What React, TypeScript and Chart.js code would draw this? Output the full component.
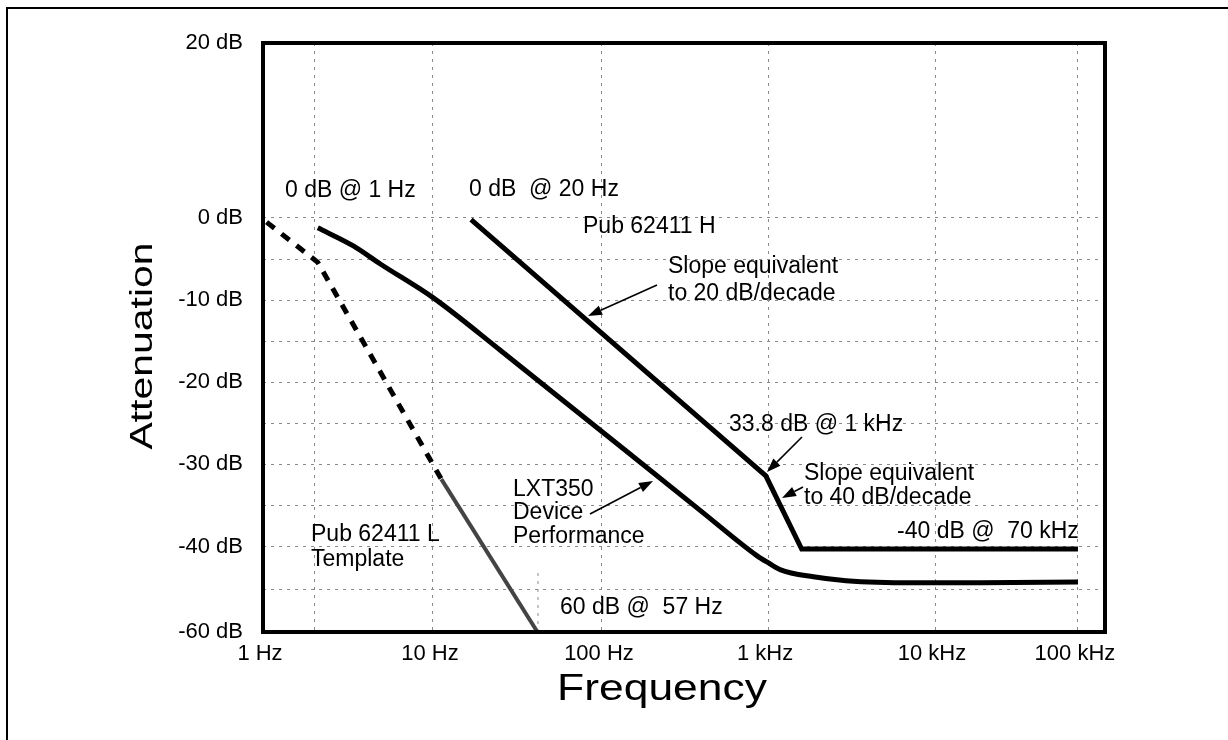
import React, { useEffect, useRef } from 'react';
import { Chart, LinearScale, registerables } from 'chart.js';

Chart.register(...registerables);

// ---------- data ----------
const X_TICKS = [1, 2, 10, 100, 1000, 10000, 100000];
const X_TICK_LABELS = ['1 Hz', '', '10 Hz', '100 Hz', '1 kHz', '10 kHz', '100 kHz'];
const Y_TICKS = [-60, -50, -40, -35, -30, -25, -20, -15, -10, -5, 0, 20];
const Y_TICK_LABELS = ['-60 dB', '', '-40 dB', '', '-30 dB', '', '-20 dB', '', '-10 dB', '', '0 dB', '20 dB'];

const LXT_FREQ = [2.1, 3.4, 4.9, 10, 25, 390, 860, 1000, 1180, 1870, 2930, 7400, 20600, 100000];
const LXT_DB = [-1.2, -3.4, -5.6, -9.7, -16.1, -35.6, -42.2, -43.8, -45.4, -47.1, -48.0, -48.5, -48.5, -48.3];

const H_FREQ = [16.8, 970, 1590, 100000];
const H_DB = [-0.2, -31.4, -40.6, -40.6];

const L_DASH_FREQ = [1.05, 2.1, 11.2];
const L_DASH_DB = [-0.5, -5.4, -31.8];

const L_SOLID_FREQ = [11.2, 41.5];
const L_SOLID_DB = [-31.8, -60];

const MARK_FREQ = [41.8, 41.8];
const MARK_DB = [-46.2, -60];

// ---------- axis geometry (drawing's own non-uniform axes) ----------
const X_AXIS_LOG = [0, 1, 2, 3, 4, 5];
const X_AXIS_FRAC = [0, 0.2019, 0.4026, 0.5998, 0.7981, 0.9679];
const Y_AXIS_DB = [-60, -40, 0, 20];
const Y_AXIS_FRAC = [0, 0.1452, 0.7029, 1];

// ---------- annotations ----------
const FONT = '"Liberation Sans", Arial, Helvetica, sans-serif';
const NOTES = [
  { text: '0 dB @ 1 Hz', x: 285, y: 197 },
  { text: '0 dB  @ 20 Hz', x: 469, y: 196 },
  { text: 'Pub 62411 H', x: 583, y: 233 },
  { text: 'Slope equivalent', x: 668, y: 273 },
  { text: 'to 20 dB/decade', x: 668, y: 300 },
  { text: '33.8 dB @ 1 kHz', x: 729, y: 431 },
  { text: 'Slope equivalent', x: 804, y: 480 },
  { text: 'to 40 dB/decade', x: 804, y: 504 },
  { text: '-40 dB @  70 kHz', x: 897, y: 538 },
  { text: 'LXT350', x: 513, y: 496 },
  { text: 'Device', x: 513, y: 519 },
  { text: 'Performance', x: 513, y: 543 },
  { text: 'Pub 62411 L', x: 311, y: 541 },
  { text: 'Template', x: 311, y: 566 },
  { text: '60 dB @  57 Hz', x: 560, y: 614 },
];
const ARROWS = [
  { x1: 657, y1: 285, x2: 588, y2: 316 },
  { x1: 802, y1: 437, x2: 767, y2: 472 },
  { x1: 803, y1: 487, x2: 782, y2: 498 },
  { x1: 590, y1: 514, x2: 653, y2: 481 },
];

function interp(v: number, vs: number[], fs: number[]) {
  let i = 0;
  while (i < vs.length - 2 && v > vs[i + 1]) i++;
  const t = (v - vs[i]) / (vs[i + 1] - vs[i]);
  return fs[i] + t * (fs[i + 1] - fs[i]);
}

function makeScale(id: string, vs: number[], fs: number[], log: boolean, tickVals: number[]) {
  return class extends LinearScale {
    static id = id;
    static defaults = {};
    buildTicks() {
      (this as any).start = this.min;
      (this as any).end = this.max;
      return tickVals.map((v) => ({ value: v }));
    }
    getPixelForValue(value: number) {
      if (value === null || value === undefined) return NaN;
      const v = log ? Math.log10(value) : value;
      return this.getPixelForDecimal(interp(v, vs, fs));
    }
    getValueForPixel(pixel: number) {
      const d = this.getDecimalForPixel(pixel);
      const v = interp(d, fs, vs);
      return log ? Math.pow(10, v) : v;
    }
  };
}

const FreqScale = makeScale('freqpiece', X_AXIS_LOG, X_AXIS_FRAC, true, X_TICKS);
const DbScale = makeScale('dbpiece', Y_AXIS_DB, Y_AXIS_FRAC, false, Y_TICKS);
Chart.register(FreqScale as any, DbScale as any);

function pts(xs: number[], ys: number[]) {
  return xs.map((x, i) => ({ x, y: ys[i] }));
}

function drawArrow(ctx: CanvasRenderingContext2D, x1: number, y1: number, x2: number, y2: number) {
  const ang = Math.atan2(y2 - y1, x2 - x1);
  const len = 14;
  const hw = 5;
  const bx = x2 - len * Math.cos(ang);
  const by = y2 - len * Math.sin(ang);
  ctx.beginPath();
  ctx.lineWidth = 1.6;
  ctx.moveTo(x1, y1);
  ctx.lineTo(bx, by);
  ctx.stroke();
  ctx.beginPath();
  ctx.moveTo(x2, y2);
  ctx.lineTo(bx + hw * Math.sin(ang), by - hw * Math.cos(ang));
  ctx.lineTo(bx - hw * Math.sin(ang), by + hw * Math.cos(ang));
  ctx.closePath();
  ctx.fill();
}

const overlay = {
  id: 'overlay',
  afterDraw(chart: any) {
    const { ctx, chartArea: a } = chart;
    ctx.save();
    ctx.strokeStyle = '#000';
    ctx.fillStyle = '#000';
    ctx.lineWidth = 4;
    ctx.setLineDash([]);
    ctx.strokeRect(a.left, a.top, a.right - a.left, a.bottom - a.top);

    ctx.font = '23px ' + FONT;
    ctx.textAlign = 'left';
    ctx.textBaseline = 'alphabetic';
    for (const n of NOTES) ctx.fillText(n.text, n.x, n.y);
    for (const ar of ARROWS) drawArrow(ctx, ar.x1, ar.y1, ar.x2, ar.y2);

    // axis titles
    ctx.textAlign = 'center';
    ctx.save();
    ctx.translate(662, 700);
    ctx.scale(1.2, 1);
    ctx.font = '37px ' + FONT;
    ctx.fillText('Frequency', 0, 0);
    ctx.restore();

    ctx.save();
    ctx.translate(152, 346);
    ctx.rotate(-Math.PI / 2);
    ctx.scale(1.28, 1);
    ctx.font = '32px ' + FONT;
    ctx.fillText('Attenuation', 0, 0);
    ctx.restore();

    ctx.restore();
  },
};

export default function App() {
  const ref = useRef<HTMLCanvasElement | null>(null);
  useEffect(() => {
    if (!ref.current) return;
    const gridColor = '#8a8a8a';
    const chart = new Chart(ref.current, {
      type: 'line',
      data: {
        datasets: [
          {
            label: 'LXT350 Device Performance',
            data: pts(LXT_FREQ, LXT_DB),
            borderColor: '#000',
            borderWidth: 5,
            pointRadius: 0,
            cubicInterpolationMode: 'monotone',
          },
          {
            label: 'Pub 62411 H',
            data: pts(H_FREQ, H_DB),
            borderColor: '#000',
            borderWidth: 5,
            pointRadius: 0,
            tension: 0,
          },
          {
            label: 'Pub 62411 L (dashed)',
            data: pts(L_DASH_FREQ, L_DASH_DB),
            borderColor: '#000',
            borderWidth: 5,
            borderDash: [10, 9],
            pointRadius: 0,
            tension: 0,
          },
          {
            label: 'Pub 62411 L',
            data: pts(L_SOLID_FREQ, L_SOLID_DB),
            borderColor: '#444',
            borderWidth: 4,
            pointRadius: 0,
            tension: 0,
          },
          {
            label: '57 Hz marker',
            data: pts(MARK_FREQ, MARK_DB),
            borderColor: gridColor,
            borderWidth: 1,
            borderDash: [3, 5],
            pointRadius: 0,
            tension: 0,
          },
        ],
      },
      options: {
        animation: false,
        responsive: false,
        events: [],
        layout: { padding: { left: 0, top: 43, right: 123, bottom: 0 } },
        plugins: { legend: { display: false }, tooltip: { enabled: false } },
        scales: {
          x: {
            type: 'freqpiece' as any,
            min: 1,
            max: 155000,
            afterFit: (s: any) => { s.height = 108; },
            border: { display: false, dash: [3, 5] },
            grid: {
              drawTicks: false,
              lineWidth: 1,
              color: (c: any) => (c.tick && c.tick.value === 1 ? 'rgba(0,0,0,0)' : gridColor),
            },
            ticks: {
              autoSkip: false,
              maxRotation: 0,
              padding: 9,
              labelOffset: -3,
              color: '#000',
              font: { family: FONT, size: 22 },
              callback: (_v: any, i: number) => X_TICK_LABELS[i],
            },
          } as any,
          y: {
            type: 'dbpiece' as any,
            min: -60,
            max: 20,
            afterFit: (s: any) => { s.width = 263; },
            border: { display: false, dash: [3, 5] },
            grid: {
              drawTicks: false,
              lineWidth: 1,
              color: (c: any) =>
                c.tick && (c.tick.value === 20 || c.tick.value === -60) ? 'rgba(0,0,0,0)' : gridColor,
            },
            ticks: {
              autoSkip: false,
              padding: 20,
              color: '#000',
              font: { family: FONT, size: 22 },
              callback: (_v: any, i: number) => Y_TICK_LABELS[i],
            },
          } as any,
        },
      },
      plugins: [overlay],
    });
    return () => chart.destroy();
  }, []);

  return (
    <div style={{ position: 'absolute', left: 0, top: 0, width: 1228, height: 740, background: '#fff' }}>
      <canvas ref={ref} width={1228} height={740} style={{ display: 'block', width: 1228, height: 740 }} />
      <div
        style={{
          position: 'absolute',
          left: 6,
          top: 7,
          width: 1222,
          height: 733,
          borderLeft: '2px solid #000',
          borderTop: '2px solid #000',
          pointerEvents: 'none',
          boxSizing: 'border-box',
        }}
      />
    </div>
  );
}
